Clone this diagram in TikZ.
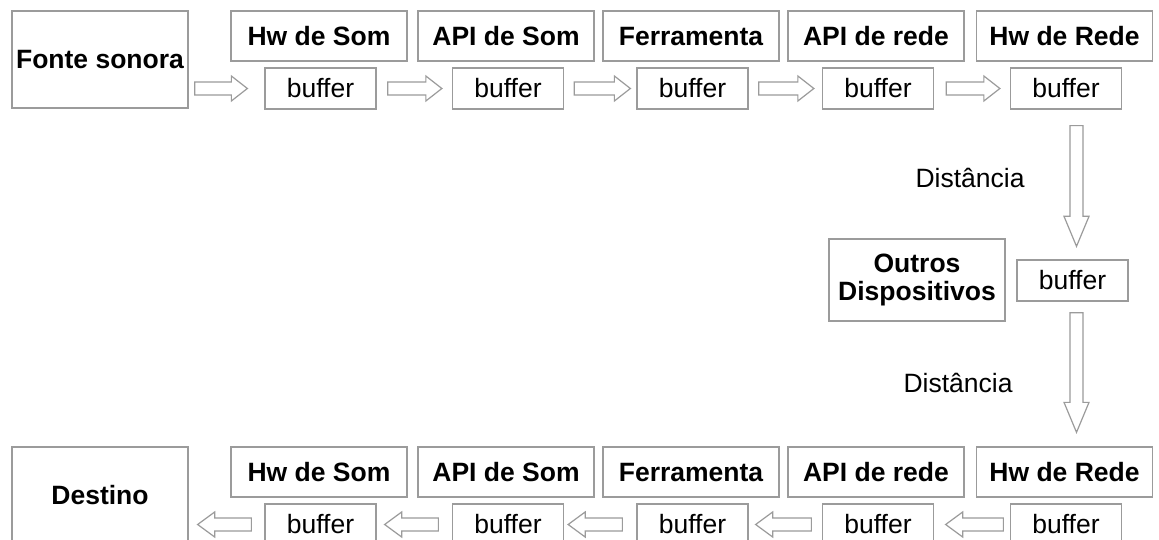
\documentclass[tikz,border=0pt]{standalone}
\usepackage{fontspec}
\setmainfont{Liberation Sans}
\usetikzlibrary{calc}
\definecolor{lg}{RGB}{155,155,155}
% block arrow: #1 name, #2 tail point, #3 tip point, #4 head length
\newcommand\barr[4]{%
  \coordinate (#1s) at (#2);
  \coordinate (#1e) at (#3);
  \coordinate (#1h) at ($(#1e)!#4!(#1s)$);
  \draw[barrow] ($(#1s)!6.5pt!90:(#1e)$) -- ($(#1h)!6.5pt!90:(#1e)$) -- ($(#1h)!12.5pt!90:(#1e)$) -- (#1e)
    -- ($(#1h)!12.5pt!-90:(#1e)$) -- ($(#1h)!6.5pt!-90:(#1e)$) -- ($(#1s)!6.5pt!-90:(#1e)$) -- cycle;}
\begin{document}
\begin{tikzpicture}[x=1pt,y=-1pt,
  base/.style={draw=lg, line width=1.3pt, inner sep=0pt, align=center, text=black,
    font=\fontsize{26.5pt}{28pt}\selectfont},
  oneline/.style={text height=18.5pt, text depth=0pt},
  big/.style={base, font=\fontsize{26.5pt}{28pt}\selectfont\bfseries, minimum width=176pt, minimum height=97pt},
  lab/.style={base, oneline, font=\fontsize{26.5pt}{28pt}\selectfont\bfseries, minimum width=176pt, minimum height=50pt},
  buf/.style={base, oneline, minimum width=111pt, minimum height=41pt},
  barrow/.style={draw=lg, line width=1.2pt, fill=white, line join=miter},
  dist/.style={font=\fontsize{26.5pt}{28pt}\selectfont, anchor=base, inner sep=0pt}]
\useasboundingbox (0,0) rectangle (1159,540);
\clip (0,0) rectangle (1159,540);
\fill[white] (0,0) rectangle (1159,540);

% top row
\node[big, oneline] (fonte) at (100,59.5) {Fonte sonora};
\node[lab] (t1) at (319,36) {Hw de Som};
\node[lab] (t2) at (506,36) {API de Som};
\node[lab] (t3) at (691,36) {Ferramenta};
\node[lab] (t4) at (876,36) {API de rede};
\node[lab] (t5) at (1064.5,36) {Hw de Rede};
\node[buf] (b1) at (320.5,88.5) {buffer};
\node[buf] (b2) at (508,88.5) {buffer};
\node[buf] (b3) at (692.5,88.5) {buffer};
\node[buf] (b4) at (878,88.5) {buffer};
\node[buf] (b5) at (1066,88.5) {buffer};

% middle
\node[big, minimum height=82pt] (outros) at (917,280) {Outros\\Dispositivos};
\node[buf] (bm) at (1072.5,280.5) {buffer};
\node[dist] (d1) at (970,188) {Distância};
\node[dist] (d2) at (958,392) {Distância};

% bottom row
\node[big, oneline] (destino) at (100,495.5) {Destino};
\node[lab] (u1) at (319,472) {Hw de Som};
\node[lab] (u2) at (506,472) {API de Som};
\node[lab] (u3) at (691,472) {Ferramenta};
\node[lab] (u4) at (876,472) {API de rede};
\node[lab] (u5) at (1064.5,472) {Hw de Rede};
\node[buf] (c1) at (320.5,524.5) {buffer};
\node[buf] (c2) at (508,524.5) {buffer};
\node[buf] (c3) at (692.5,524.5) {buffer};
\node[buf] (c4) at (878,524.5) {buffer};
\node[buf] (c5) at (1066,524.5) {buffer};

% top arrows (right)
\barr{ra}{$(fonte.east |- b1.west)+(6,0)$}{$(b1.west)+(-17,0)$}{16pt}
\barr{rb}{$(b1.east)+(11,0)$}{$(b2.west)+(-10,0)$}{16pt}
\barr{rc}{$(b2.east)+(10,0)$}{$(b3.west)+(-6,0)$}{16pt}
\barr{rd}{$(b3.east)+(10,0)$}{$(b4.west)+(-8,0)$}{16pt}
\barr{re}{$(b4.east)+(12,0)$}{$(b5.west)+(-10,0)$}{16pt}

% vertical arrows
\barr{va}{$(b5.south)+(10.5,16)$}{$(vas |- bm.north)+(0,-13)$}{30pt}
\barr{vb}{$(bm.south)+(4,11)$}{$(vbs |- u5.north)+(0,-14)$}{30pt}

% bottom arrows (left)
\barr{la}{$(c1.west)+(-13,0)$}{$(destino.east |- c1.west)+(9,0)$}{17pt}
\barr{lb}{$(c2.west)+(-13.5,0)$}{$(c1.east)+(8,0)$}{17pt}
\barr{lc}{$(c3.west)+(-14,0)$}{$(c2.east)+(4,0)$}{17pt}
\barr{ld}{$(c4.west)+(-10.5,0)$}{$(c3.east)+(7,0)$}{17pt}
\barr{le}{$(c5.west)+(-6.5,0)$}{$(c4.east)+(11.5,0)$}{17pt}
\end{tikzpicture}
\end{document}
